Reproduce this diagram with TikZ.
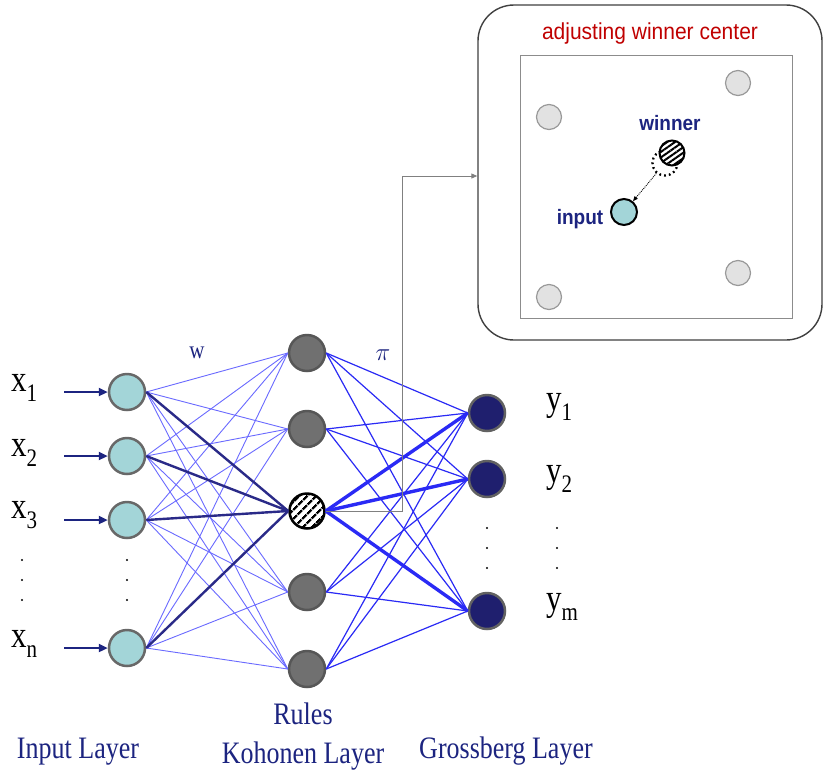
\documentclass[tikz,border=0pt]{standalone}
\usepackage{fontspec}
\setmainfont{Liberation Serif}
\setsansfont{Liberation Sans}
\usetikzlibrary{arrows.meta,patterns.meta,calc}

\definecolor{infill}{HTML}{A3D5D8}
\definecolor{inborder}{HTML}{686868}
\definecolor{kohfill}{HTML}{707070}
\definecolor{kohborder}{HTML}{575757}
\definecolor{grofill}{HTML}{1F1F6E}
\definecolor{groborder}{HTML}{626262}
\definecolor{navy}{HTML}{1C2480}
\definecolor{thinblue}{HTML}{6A6AFF}
\definecolor{midblue}{HTML}{2A2AF5}
\definecolor{strongnavy}{HTML}{2A2A88}
\definecolor{boxred}{HTML}{C00000}
\definecolor{ltgray}{HTML}{E2E2E2}

% tall serif lettering
\newcommand{\tallserif}[1]{\scalebox{1}[1.2]{#1}}
\newcommand{\varsub}[2]{\tallserif{#1\raisebox{-8pt}{\fontsize{21}{21}\selectfont #2}}}

\begin{document}
\begin{tikzpicture}[x=1pt,y=-1pt,
  inp/.style={circle, draw=inborder, fill=infill, line width=2.5pt, minimum size=36pt, inner sep=0pt},
  koh/.style={circle, draw=kohborder, fill=kohfill, line width=2.5pt, minimum size=36pt, inner sep=0pt},
  gro/.style={circle, draw=groborder, fill=grofill, line width=2.5pt, minimum size=36pt, inner sep=0pt},
  winnode/.style={circle, draw=black, line width=2.5pt, minimum size=35pt, inner sep=0pt,
    preaction={fill=white}, pattern={Lines[angle=45,distance=6.5pt,line width=2.6pt]}},
  wlink/.style={draw=thinblue, line width=0.9pt},
  wstrong/.style={draw=strongnavy, line width=2.4pt},
  plink/.style={draw=midblue, line width=1.2pt},
  pstrong/.style={draw=midblue, line width=3.4pt},
  feed/.style={draw=navy, line width=2.2pt, -{Triangle[length=9pt,width=8pt]}},
  varlab/.style={font=\fontsize{31}{31}\selectfont, anchor=west, inner sep=0pt},
  layerlab/.style={font=\fontsize{26}{28}\selectfont, text=navy, inner sep=0pt},
  dot/.style={circle, fill=black, minimum size=2.4pt, inner sep=0pt},
  softdot/.style={circle, fill=ltgray, draw=gray!80, line width=1.2pt, minimum size=25pt, inner sep=0pt},
  tag/.style={font=\sffamily\bfseries\fontsize{19}{20}\selectfont, text=navy, inner sep=0pt}
]
\useasboundingbox (0,0) rectangle (824,774);
\fill[white] (0,0) rectangle (824,774);

% ---------- inset: adjusting winner center ----------
\node[draw=black!75, line width=1.4pt, rounded corners=36pt, minimum width=344pt, minimum height=335pt] (box) at (650,172.5) {};
\draw[gray!90, line width=1pt] (520,55) rectangle (792,318);
\node[font=\sffamily\fontsize{21}{22}\selectfont, text=boxred, inner sep=0pt] (title) at (650,34) {\scalebox{1}[1.1]{adjusting winner center}};
\node[softdot] (s1) at (549,117) {};
\node[softdot] (s2) at (738,83) {};
\node[softdot] (s3) at (549,297) {};
\node[softdot] (s4) at (738,273) {};
\node[circle, draw=black, line width=2.3pt, dash pattern=on 1.8pt off 3pt, minimum size=25pt, inner sep=0pt] (oldw) at (665,163) {};
\node[circle, draw=black, line width=2pt, minimum size=25pt, inner sep=0pt, preaction={fill=white},
      pattern={Lines[angle=35,distance=4.5pt,line width=2pt]}] (neww) at (672,153) {};
\node[circle, draw=black, line width=2pt, fill=infill, minimum size=26pt, inner sep=0pt] (sample) at (624,212) {};
\draw[densely dotted, line width=0.9pt, -{Triangle[length=5pt,width=4pt]}] (oldw) -- (sample);
\node[tag] (wtag) at (670,123) {\scalebox{1}[1.1]{winner}};
\node[tag] (itag) at (580,219) {\scalebox{1}[1.1]{input}};

% ---------- network nodes ----------
\foreach \n/\y in {1/392, 2/456, 3/520, 4/648}
  \node[inp] (i\n) at (127,\y) {};
\node[koh] (k1) at (307,353) {};
\node[koh] (k2) at (307,429) {};
\node[winnode] (k3) at (307,511) {};
\node[koh] (k4) at (307,592) {};
\node[koh] (k5) at (307,669) {};
\node[gro] (g1) at (487,413) {};
\node[gro] (g2) at (487,479) {};
\node[gro] (g3) at (487,611) {};

% ---------- weights w ----------
\foreach \a in {1,2,3,4}
  \foreach \b in {1,2,4,5}
    \draw[wlink] (i\a.east) -- (k\b.west);
\foreach \a in {1,2,3,4}
  \draw[wstrong] (i\a.east) -- (k3.west);

% ---------- weights pi ----------
\foreach \a in {1,2,4,5}
  \foreach \b in {1,2,3}
    \draw[plink] (k\a.east) -- (g\b.west);
\foreach \b in {1,2,3}
  \draw[pstrong] (k3.east) -- (g\b.west);

% ---------- winner feeds the inset ----------
\coordinate (bend) at (402,176);
\draw[gray, line width=1pt, -{Triangle[length=6pt,width=5pt]}] (k3.east) -| (bend) -- (bend -| box.west);

% ---------- inputs ----------
\foreach \n/\y in {1/392, 2/456, 3/520, 4/648}
  \coordinate (src\n) at (64,\y);
\foreach \n in {1,2,3,4}
  \draw[feed] (src\n) -- (i\n.west);

\node[varlab] (x1) at (11,388) {\varsub{x}{1}};
\node[varlab] (x2) at (11,453) {\varsub{x}{2}};
\node[varlab] (x3) at (11,515) {\varsub{x}{3}};
\node[varlab] (xn) at (11,644) {\varsub{x}{n}};

\node[varlab] (y1) at (546,407) {\varsub{y}{1}};
\node[varlab] (y2) at (546,479) {\varsub{y}{2}};
\node[varlab] (ym) at (546,607) {\varsub{y}{m}};

% ---------- ellipsis dots ----------
\foreach \y in {560,580,600} {
  \node[dot] at (22,\y) {};
  \node[dot] at (127,\y) {};
}
\foreach \y in {528,548,568} {
  \node[dot] at (487,\y) {};
  \node[dot] at (557,\y) {};
}

% ---------- labels ----------
\node[font=\fontsize{21}{21}\selectfont, text=navy, inner sep=0pt] (wlab) at (197,353) {\tallserif{w}};
\node[font=\fontsize{24}{24}\selectfont, text=navy, inner sep=0pt] (pilab) at (383,355) {$\pi$};
\node[layerlab] (rules) at (303,714) {\tallserif{Rules}};
\node[layerlab] (linput) at (78,752) {\tallserif{Input Layer}};
\node[layerlab] (lkoh) at (303,756) {\tallserif{Kohonen Layer}};
\node[layerlab] (lgro) at (506,751) {\tallserif{Grossberg Layer}};
\end{tikzpicture}
\end{document}
